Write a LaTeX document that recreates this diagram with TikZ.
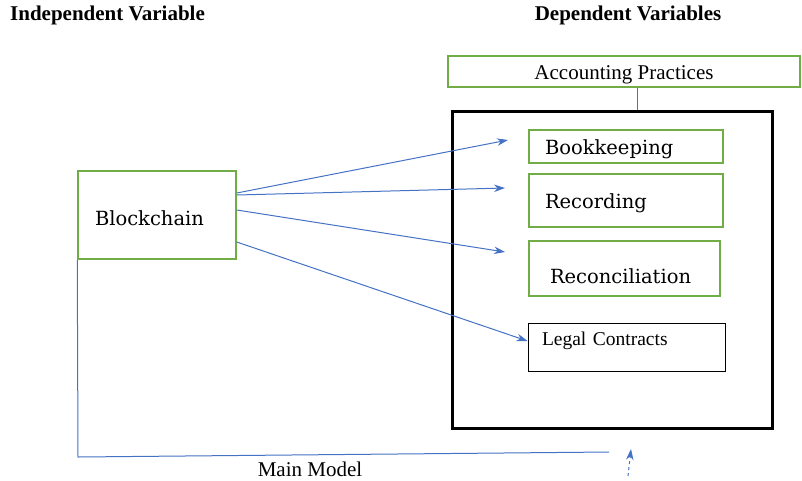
\documentclass[tikz,border=0pt]{standalone}
\usepackage{fontspec}
\setmainfont{Liberation Serif}
\newfontfamily\boxfont{DejaVu Serif}
\usetikzlibrary{arrows.meta}
\definecolor{boxgreen}{RGB}{112,173,71}
\definecolor{linkblue}{RGB}{68,114,196}
\tikzset{
  heading/.style={font=\fontsize{21}{25}\selectfont\bfseries, inner sep=0pt},
  varbox/.style={draw=boxgreen, line width=1.5pt, rectangle, align=left,
    inner ysep=0pt, text height=21pt, font=\boxfont\fontsize{19.5}{23}\selectfont},
  link/.style={draw=linkblue, line width=1pt},
  linkarrow/.style={link, -{Stealth[length=11pt, width=7.5pt]}}
}
\begin{document}
\begin{tikzpicture}[x=1pt, y=-1pt]
        \useasboundingbox (0, 0) rectangle (802, 480);

        % headings
        \node[heading, anchor=west] (indep) at (10, 15) {Independent Variable};
        \node[heading] (dep) at (628, 15) {Dependent Variables};

        % dependent side
        \node[draw=boxgreen, line width=1.5pt, minimum width=352, minimum height=31,
          inner ysep=0pt, text height=20pt, font=\fontsize{21}{25}\selectfont]
          (accounting) at (624, 71.5) {Accounting Practices};
        \node[draw, line width=3pt, minimum width=320, minimum height=317] (frame) at (612, 269.5) {};

        \node[varbox, minimum width=194, minimum height=33, text width=162, inner xsep=16]
          (bookkeeping) at (626, 146.5) {Bookkeeping};
        \node[varbox, minimum width=194, minimum height=53, text width=162, inner xsep=16]
          (recording) at (626, 200.5) {Recording};
        \node[varbox, minimum width=191, minimum height=55, text width=149, inner xsep=21,
          text height=31pt] (reconciliation) at (624.5, 268.5) {Reconciliation};
        \node[draw, line width=1pt, rectangle, minimum width=197, minimum height=48,
          text width=169, inner xsep=14, inner ysep=0pt, align=left, text depth=16pt,
          font=\fontsize{19.5}{23}\selectfont] (legal) at (626.5, 347) {Legal Contracts};

        % independent side
        \node[varbox, minimum width=158, minimum height=88, text width=124, inner xsep=17,
          text height=22pt] (blockchain) at (157, 215) {Blockchain};

        \coordinate (tipB) at (508, 140);
        \coordinate (tipR) at (505, 188);
        \coordinate (tipC) at (505, 252);
        \coordinate (corner) at (78, 457);
        \coordinate (mainend) at (609, 452);
        \coordinate (dashfrom) at (628, 476);
        \coordinate (dashto) at (631, 449);

        \draw[link] ([xshift=13pt]accounting.south) -- ([xshift=13pt]accounting.south |- frame.north);

        \draw[linkarrow] ([yshift=22pt]blockchain.east) -- (tipB);
        \draw[linkarrow] ([yshift=20pt]blockchain.east) -- (tipR);
        \draw[linkarrow] ([yshift=5pt]blockchain.east) -- (tipC);
        \draw[linkarrow] ([yshift=-27pt]blockchain.east) -- ([yshift=6pt]legal.west);

        % main model
        \draw[link] (blockchain.south west) -- (corner) -- (mainend);
        \node[inner sep=0pt, font=\fontsize{21}{25}\selectfont] (mainmodel) at (310, 469) {Main Model};
        \draw[linkarrow, dashed] (dashfrom) -- (dashto);
    \end{tikzpicture}
\end{document}
